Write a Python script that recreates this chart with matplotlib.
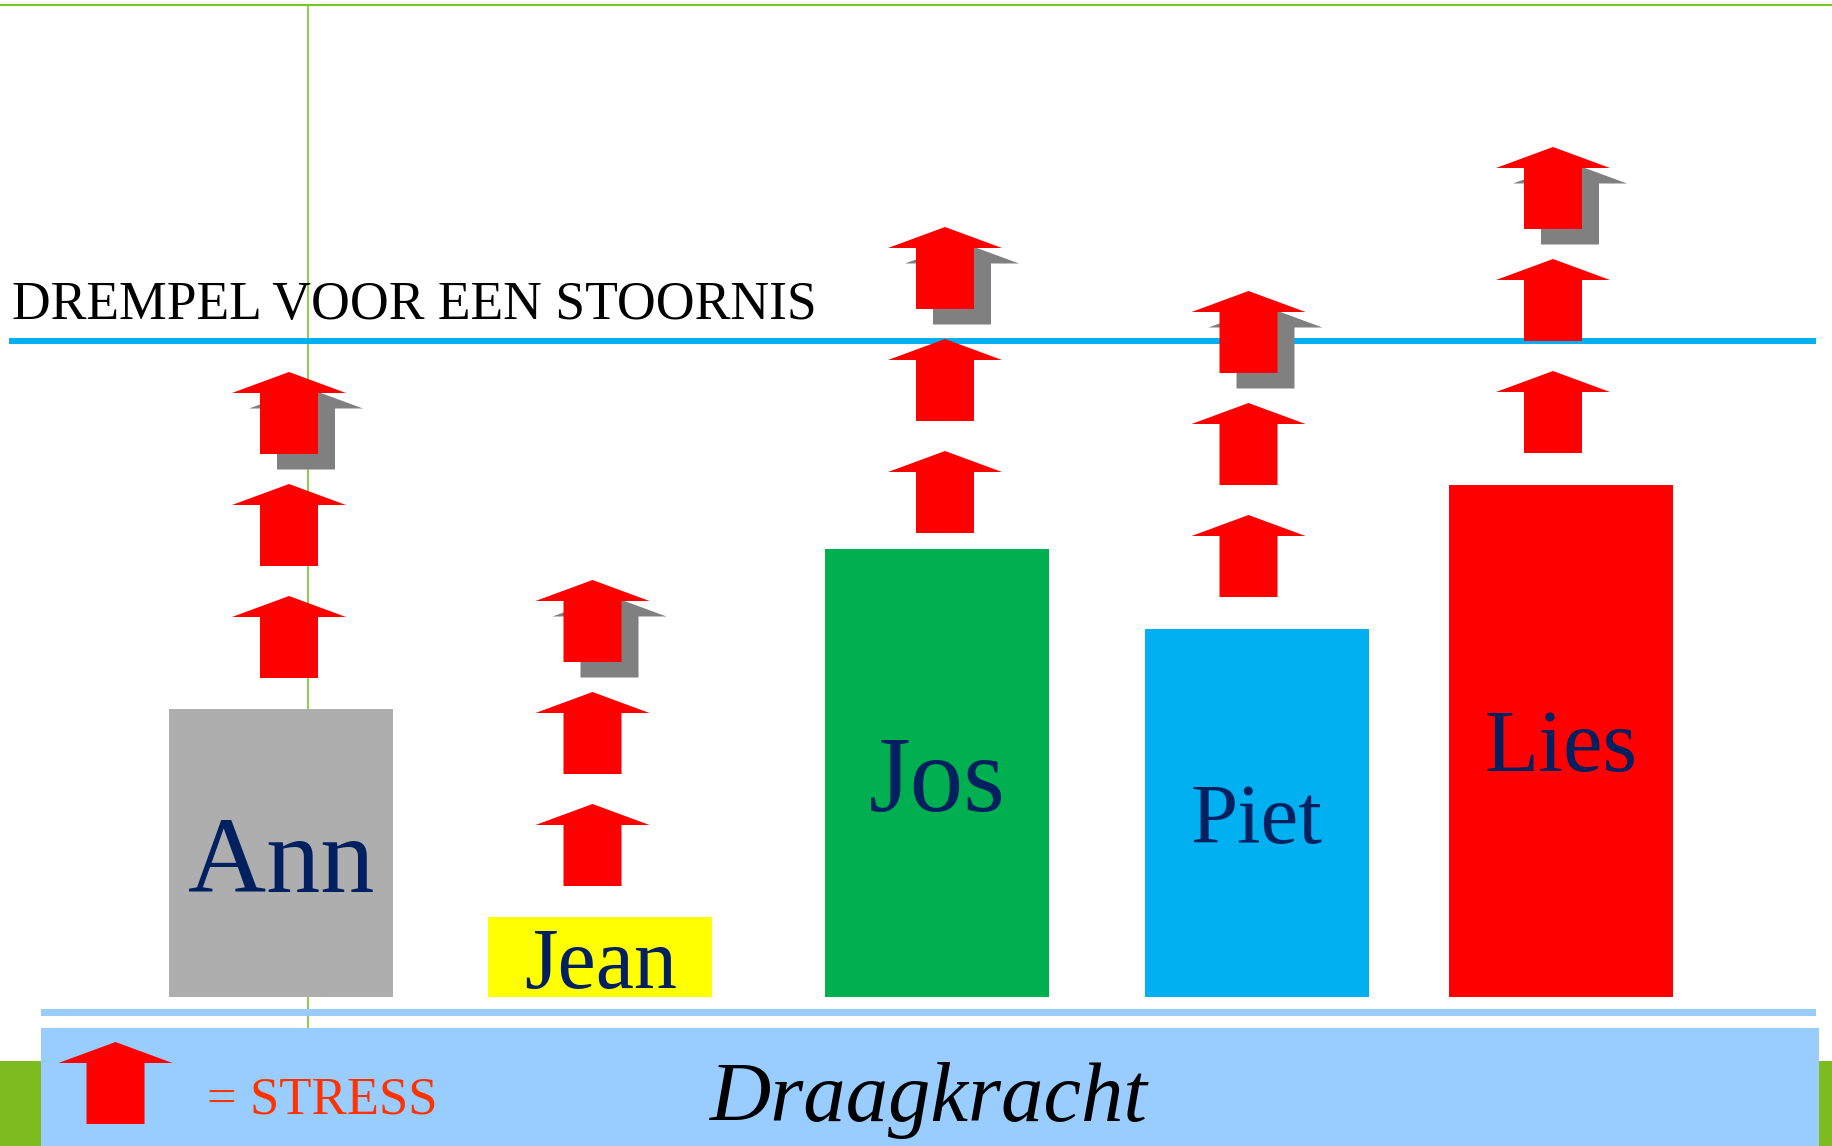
import matplotlib
matplotlib.use("Agg")
import matplotlib.pyplot as plt
from matplotlib.patches import Polygon, Rectangle

# data
names = ["Ann", "Jean", "Jos", "Piet", "Lies"]
draaglast = [288, 80, 448, 368, 512]          # bar heights above the base
bar_colors = ["#AEAEAE", "#FFFF00", "#00B050", "#00B0F0", "#FF0000"]
stress_count = [3, 3, 3, 3, 3]
drempel = 656                                  # threshold above the base

# layout (pixel units, y up)
W, H = 1833, 1146
base = 149
bar_x = [281.5, 600.5, 937.5, 1257, 1561]
bar_w = 224
arrow_dx = [7.5, -8, 7.5, -8.5, -8]
arrow_gap = [31, 31, 16, 32, 32]
label_y = [254, 158, 335, 303, 375]
label_size = [78, 62, 77, 61, 64]
navy = "#002060"
serif = ["Liberation Serif", "DejaVu Serif"]

fig = plt.figure(figsize=(W / 100, H / 100), dpi=100)
ax = fig.add_axes([0, 0, 1, 1])
ax.set_xlim(0, W)
ax.set_ylim(0, H)
ax.axis("off")


def stress_arrow(cx, y0, color="#FF0000", z=5):
    # block arrow: head 114 wide, shaft 58 wide, 82 tall
    pts = [(cx - 29, y0), (cx + 29, y0), (cx + 29, y0 + 61), (cx + 57, y0 + 61),
           (cx, y0 + 82), (cx - 57, y0 + 61), (cx - 29, y0 + 61)]
    ax.add_patch(Polygon(pts, closed=True, facecolor=color, edgecolor="none", zorder=z))


# green frame lines
ax.plot([0, W], [H - 4.5, H - 4.5], color="#7DC42B", lw=1.6, zorder=1)
ax.plot([308, 308], [H - 1028, H - 4.5], color="#7DC42B", lw=1.2, zorder=1)

# bars
ax.bar(bar_x, draaglast, width=bar_w, bottom=base, color=bar_colors, zorder=2)
for x, name, ly, fs in zip(bar_x, names, label_y, label_size):
    ax.text(x, ly, name, ha="center", va="baseline", fontsize=fs, color=navy,
            family=serif, zorder=3)

# threshold
ax.plot([9, 1816], [base + drempel, base + drempel], color="#00B0F0", lw=4.3,
        solid_capstyle="butt", zorder=4)
ax.text(12, 827, "DREMPEL VOOR EEN STOORNIS", ha="left", va="baseline",
        fontsize=38.6, color="black", family=serif, zorder=4)

# stress arrows
for x, h, n, dx, gap in zip(bar_x, draaglast, stress_count, arrow_dx, arrow_gap):
    y0 = base + h + gap
    for i in range(n):
        if i == n - 1:
            stress_arrow(x + dx + 17, y0 + i * 112 - 15.5, color="#808080", z=5)
        stress_arrow(x + dx, y0 + i * 112, z=6)

# bottom: draagkracht
ax.add_patch(Rectangle((0, 0), W, H - 1061, facecolor="#7DBB1E", edgecolor="none", zorder=1))
ax.add_patch(Rectangle((41, H - 1016), 1775, 7, facecolor="#99CCFF", edgecolor="none", zorder=2))
ax.add_patch(Rectangle((41, 0), 1778, H - 1028, facecolor="#99CCFF", edgecolor="none", zorder=2))
stress_arrow(115.5, H - 1124, z=3)
ax.text(207, H - 1113, "= STRESS", ha="left", va="baseline", fontsize=38,
        color="#FF3300", family=serif, zorder=3)
ax.text(710, H - 1121, "Draagkracht", ha="left", va="baseline", fontsize=61,
        style="italic", color="black", family=serif, zorder=3)

fig.savefig("out.png", dpi=100)
